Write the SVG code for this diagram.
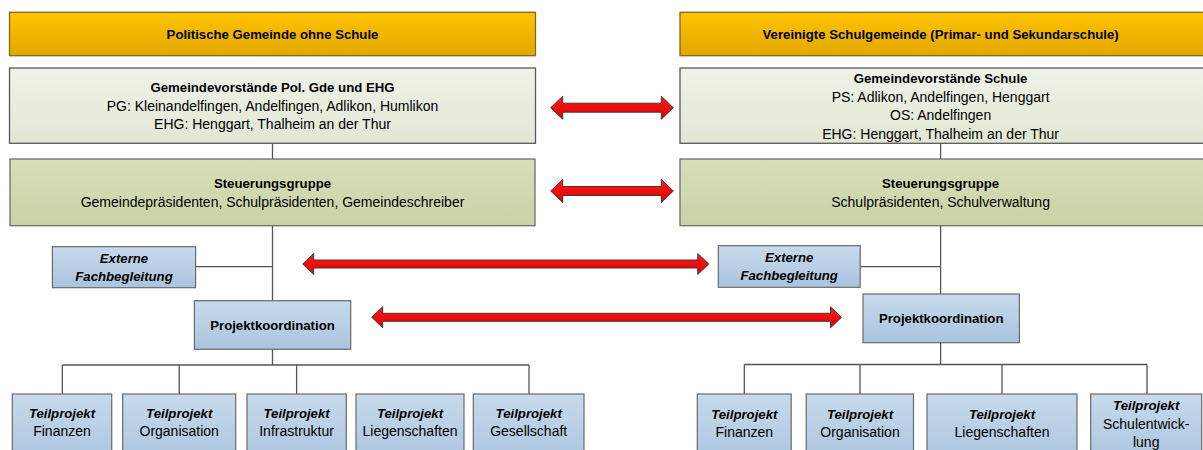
<svg xmlns="http://www.w3.org/2000/svg" width="1203" height="450" viewBox="0 0 1203 450">
<defs>
<linearGradient id="gHead" x1="0" y1="0" x2="0" y2="1"><stop offset="0" stop-color="#FFC300"/><stop offset="1" stop-color="#E2A800"/></linearGradient>
<linearGradient id="gPale" x1="0" y1="0" x2="0" y2="1"><stop offset="0" stop-color="#EFF2E8"/><stop offset="1" stop-color="#E2E7D4"/></linearGradient>
<linearGradient id="gOlive" x1="0" y1="0" x2="0" y2="1"><stop offset="0" stop-color="#D8DEBA"/><stop offset="1" stop-color="#C9D3A4"/></linearGradient>
<linearGradient id="gBlue" x1="0" y1="0" x2="0" y2="1"><stop offset="0" stop-color="#C8DAEC"/><stop offset="1" stop-color="#A9C4DE"/></linearGradient>
<linearGradient id="gRed" x1="0" y1="0" x2="0" y2="1"><stop offset="0" stop-color="#FF1A1A"/><stop offset="1" stop-color="#E00000"/></linearGradient>
</defs>
<style>
text{font-family:"Liberation Sans",Arial,sans-serif;fill:#000;text-anchor:middle}
.r{font-size:14px}
.b{font-size:13.2px;font-weight:bold}
.bi{font-size:13.2px;font-weight:bold;font-style:italic}
.head{fill:url(#gHead);stroke:#86661A;stroke-width:1.3}
.pale{fill:url(#gPale);stroke:#595959;stroke-width:1.3}
.olive{fill:url(#gOlive);stroke:#6E6E6E;stroke-width:1.3}
.blue{fill:url(#gBlue);stroke:#6A6A6A;stroke-width:1.2}
.ln{stroke:#555;stroke-width:1.3;fill:none}
.arr{fill:url(#gRed);stroke:#3A3A3A;stroke-width:1}
</style>

<g id="connectors">
<path class="ln" d="M272.5 143V365M195.6 266.7H272.5M62.3 365H529M62.3 365V394M179.2 365V394M296.6 365V394M529 365V394"/>
<path class="ln" d="M940.6 143V364.5M860.2 266.7H940.6M744.3 364.5H1147M744.3 364.5V394M860 364.5V394M1002 364.5V394M1147 364.5V394"/>
<polygon class="arr" points="550.7,107.7 562.7,96.2 562.7,103.2 661.3,103.2 661.3,96.2 673.3,107.7 661.3,119.2 661.3,112.2 562.7,112.2 562.7,119.2"/>
<polygon class="arr" points="550.7,191 562.7,179.5 562.7,186.5 661.3,186.5 661.3,179.5 673.3,191 661.3,202.5 661.3,195.5 562.7,195.5 562.7,202.5"/>
<polygon class="arr" points="302.7,264 313.7,253.5 313.7,260 697.8,260 697.8,253.5 708.8,264 697.8,274.5 697.8,268 313.7,268 313.7,274.5"/>
<polygon class="arr" points="371.7,317.3 382.7,306.8 382.7,313.3 830.5,313.3 830.5,306.8 841.5,317.3 830.5,327.8 830.5,321.3 382.7,321.3 382.7,327.8"/>
</g>

<g id="hdr-left"><rect class="head" x="9.5" y="12.3" width="526" height="43.4"/><text class="b" x="272.5" y="38.5">Politische Gemeinde ohne Schule</text></g>
<g id="hdr-right"><rect class="head" x="680" y="12.3" width="530" height="43.4"/><text class="b" x="940.6" y="38.5">Vereinigte Schulgemeinde (Primar- und Sekundarschule)</text></g>

<g id="gv-left"><rect class="pale" x="9.5" y="68" width="526" height="75.3"/>
<text class="b" x="272.5" y="92">Gemeindevorstände Pol. Gde und EHG</text>
<text class="r" x="272.5" y="110.5">PG: Kleinandelfingen, Andelfingen, Adlikon, Humlikon</text>
<text class="r" x="272.5" y="129">EHG: Henggart, Thalheim an der Thur</text></g>
<g id="gv-right"><rect class="pale" x="680" y="68" width="530" height="75.3"/>
<text class="b" x="940.6" y="83">Gemeindevorstände Schule</text>
<text class="r" x="940.6" y="101.5">PS: Adlikon, Andelfingen, Henggart</text>
<text class="r" x="940.6" y="120">OS: Andelfingen</text>
<text class="r" x="940.6" y="138.5">EHG: Henggart, Thalheim an der Thur</text></g>

<g id="sg-left"><rect class="olive" x="10" y="159" width="525" height="66.7"/>
<text class="b" x="272.5" y="188.3">Steuerungsgruppe</text>
<text class="r" x="272.5" y="207">Gemeindepräsidenten, Schulpräsidenten, Gemeindeschreiber</text></g>
<g id="sg-right"><rect class="olive" x="680" y="159" width="530" height="66.7"/>
<text class="b" x="940.6" y="188.3">Steuerungsgruppe</text>
<text class="r" x="940.6" y="207">Schulpräsidenten, Schulverwaltung</text></g>

<g id="ext-left"><rect class="blue" x="52.4" y="246.7" width="143.2" height="41"/>
<text class="bi" x="124" y="263">Externe</text><text class="bi" x="124" y="281">Fachbegleitung</text></g>
<g id="ext-right"><rect class="blue" x="718.3" y="245.7" width="141.9" height="41.6"/>
<text class="bi" x="789.2" y="262">Externe</text><text class="bi" x="789.2" y="280">Fachbegleitung</text></g>

<g id="pk-left"><rect class="blue" x="194.4" y="300.7" width="156.3" height="48.6"/><text class="b" x="272.5" y="330">Projektkoordination</text></g>
<g id="pk-right"><rect class="blue" x="863" y="294" width="156.4" height="48.7"/><text class="b" x="941.2" y="323.3">Projektkoordination</text></g>

<g id="tp-l1"><rect class="blue" x="12.3" y="394" width="99.4" height="70"/><text class="bi" x="62" y="418">Teilprojekt</text><text class="r" x="62" y="435.5">Finanzen</text></g>
<g id="tp-l2"><rect class="blue" x="122.7" y="394" width="113" height="70"/><text class="bi" x="179.2" y="418">Teilprojekt</text><text class="r" x="179.2" y="435.5">Organisation</text></g>
<g id="tp-l3"><rect class="blue" x="247" y="394" width="99.3" height="70"/><text class="bi" x="296.6" y="418">Teilprojekt</text><text class="r" x="296.6" y="435.5">Infrastruktur</text></g>
<g id="tp-l4"><rect class="blue" x="356" y="394" width="108" height="70"/><text class="bi" x="410" y="418">Teilprojekt</text><text class="r" x="410" y="435.5">Liegenschaften</text></g>
<g id="tp-l5"><rect class="blue" x="473.3" y="394" width="110.7" height="70"/><text class="bi" x="528.7" y="418">Teilprojekt</text><text class="r" x="528.7" y="435.5">Gesellschaft</text></g>

<g id="tp-r1"><rect class="blue" x="697.3" y="394" width="93.9" height="70"/><text class="bi" x="744.3" y="419">Teilprojekt</text><text class="r" x="744.3" y="437">Finanzen</text></g>
<g id="tp-r2"><rect class="blue" x="806.2" y="394" width="107.3" height="70"/><text class="bi" x="860" y="419">Teilprojekt</text><text class="r" x="860" y="437">Organisation</text></g>
<g id="tp-r3"><rect class="blue" x="927" y="394" width="150" height="70"/><text class="bi" x="1002" y="419">Teilprojekt</text><text class="r" x="1002" y="437">Liegenschaften</text></g>
<g id="tp-r4"><rect class="blue" x="1090.7" y="394" width="111" height="70"/><text class="bi" x="1146.2" y="410">Teilprojekt</text><text class="r" x="1146.2" y="429">Schulentwick-</text><text class="r" x="1146.2" y="447">lung</text></g>
</svg>
